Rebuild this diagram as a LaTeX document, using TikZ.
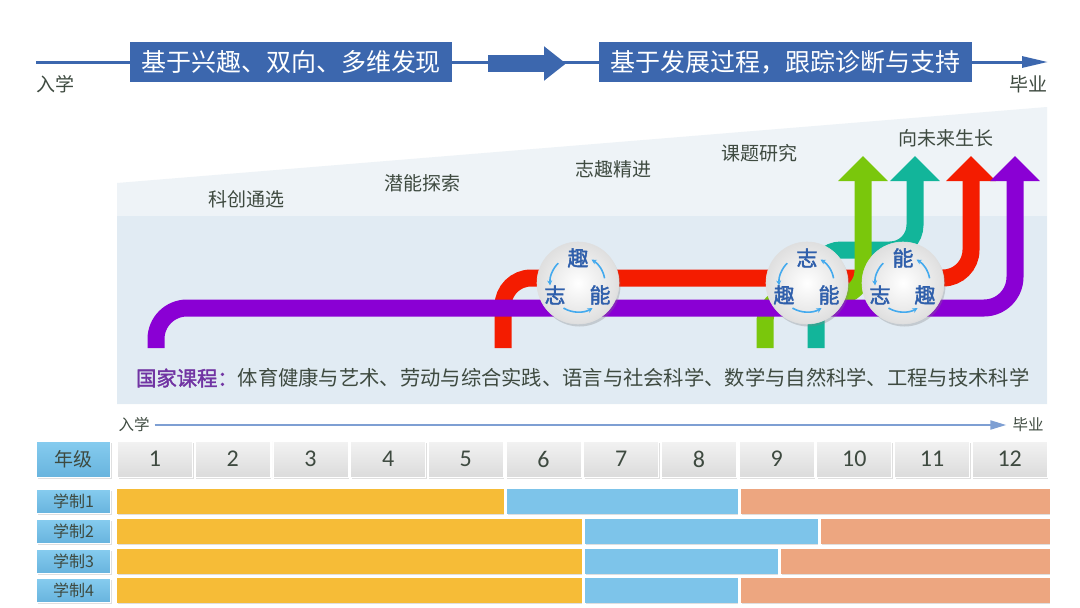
\documentclass[tikz,border=0pt]{standalone}
\usepackage{fontspec}
\setmainfont{Noto Sans CJK SC}[AutoFakeBold=2]
\newfontfamily\numfont{Carlito}
\usetikzlibrary{arrows.meta,shadows,positioning}

\definecolor{bannerblue}{HTML}{3C67AE}
\definecolor{txtgrey}{HTML}{3E4A40}
\definecolor{bandlight}{HTML}{EEF3F7}
\definecolor{banddark}{HTML}{E1EBF3}
\definecolor{roadpurple}{HTML}{8A00D4}
\definecolor{roadred}{HTML}{F41C00}
\definecolor{roadgreen}{HTML}{7AC70C}
\definecolor{roadteal}{HTML}{12B59A}
\definecolor{knotblue}{HTML}{2F5FAB}
\definecolor{cycblue}{HTML}{44AAEE}
\definecolor{natpurple}{HTML}{7134A3}
\definecolor{axisblue}{HTML}{7E9FD3}
\definecolor{baryellow}{HTML}{F6BC37}
\definecolor{barblue}{HTML}{7DC4EA}
\definecolor{barorange}{HTML}{EDA680}
\definecolor{labtop}{HTML}{86CCEF}
\definecolor{labbot}{HTML}{68B4DE}

\begin{document}
\begin{tikzpicture}[x=1pt,y=-1pt,
  banner/.style={fill=bannerblue,text=white,minimum height=40pt,inner sep=0pt,
    font=\fontsize{25}{25}\selectfont},
  stage/.style={text=txtgrey,inner sep=0pt,font=\fontsize{19}{19}\selectfont},
  road/.style={line width=17pt,rounded corners=28pt,-{Triangle[width=48pt,length=25pt]}},
  knot/.style={circle,minimum size=82pt,draw=gray!25,line width=.6pt,inner color=white,
    outer color=gray!25,drop shadow={shadow xshift=1.5pt,shadow yshift=-2.5pt,opacity=.3}},
  knotch/.style={text=knotblue,inner sep=0pt,font=\fontsize{21}{21}\selectfont\bfseries},
  cyc/.style={draw=cycblue,line width=1.6pt,-{Stealth[length=5pt,width=5pt]}},
  cell/.style={minimum width=75pt,minimum height=36pt,inner sep=0pt,draw=white,line width=.8pt,
    top color=gray!10,bottom color=gray!28,text=txtgrey,
    drop shadow={shadow xshift=1pt,shadow yshift=-1.5pt,opacity=.25}},
  lab/.style={minimum width=74pt,inner sep=0pt,draw=white,line width=.8pt,
    top color=labtop,bottom color=labbot,text=txtgrey,
    drop shadow={shadow xshift=1pt,shadow yshift=-1.5pt,opacity=.25}},
  bar/.style={draw=white,line width=.8pt,
    drop shadow={shadow xshift=1pt,shadow yshift=-1.5pt,opacity=.25}}
]
\useasboundingbox (0,0) rectangle (1080,608);
\fill[white] (0,0) rectangle (1080,608);

% top line: two phases
\coordinate (topL) at (36,62);
\coordinate (topR) at (1048,62);
\node[banner,minimum width=322pt] (phase1) at (291,62) {基于兴趣、双向、多维发现};
\node[banner,minimum width=373pt] (phase2) at (785.5,62) {基于发展过程，跟踪诊断与支持};
\draw[bannerblue,line width=3pt] (topL) -- (phase1.west);
\draw[bannerblue,line width=3pt] (phase1.east) -- (phase2.west);
\draw[bannerblue,line width=3pt,-{Triangle[width=11pt,length=26pt]}] (phase2.east) -- (topR);
\coordinate (fatS) at (488,63.5);
\coordinate (fatE) at (566,63.5);
\draw[bannerblue,line width=17pt,-{Triangle[width=33pt,length=22pt]}] (fatS) -- (fatE);
\node[stage] (inTop) at (55,84) {入学};
\node[stage] (outTop) at (1028,84) {毕业};

% background band
\fill[bandlight] (117,183) -- (1047,107) -- (1047,404) -- (117,404) -- cycle;
\fill[banddark] (117,216) rectangle (1047,404);

\node[stage] (st1) at (246,199) {科创通选};
\node[stage] (st2) at (422,183) {潜能探索};
\node[stage] (st3) at (613,169) {志趣精进};
\node[stage] (st4) at (759,153) {课题研究};
\node[stage] (st5) at (946,138) {向未来生长};

% roads
\draw[road,roadred] (503,348) -- (503,278) -- (971,278) -- (971,156);
\draw[road,roadteal,rounded corners=25pt] (816,348) -- (816,250) -- (915,250) -- (915,156);
\draw[road,roadgreen,rounded corners=25pt] (765,348) -- (765,296) -- (863,296) -- (863,156);
\draw[road,roadpurple,rounded corners=31pt] (156,348) -- (156,308) -- (1015,308) -- (1015,156);

% knots
\foreach \n/\x/\t/\l/\r in {k1/578/趣/志/能, k2/807/志/趣/能, k3/903/能/志/趣}{
  \node[knot] (\n) at (\x,283) {};
  \node[knotch] at (\x,258) {\t};
  \node[knotch] at (\x-23,295) {\l};
  \node[knotch] at (\x+22,295) {\r};
  \draw[cyc] (\n.center) ++(-135:28) arc (-135:-185:28);
  \draw[cyc] (\n.center) ++(-240:29) arc (-240:-300:29);
  \draw[cyc] (\n.center) ++(-10:27) arc (-10:-60:27);
}

\node[anchor=west,inner sep=0pt,text=txtgrey,font=\fontsize{20.3}{20.3}\selectfont] (natl) at (136,378)
  {\textcolor{natpurple}{\bfseries 国家课程：}体育健康与艺术、劳动与综合实践、语言与社会科学、数学与自然科学、工程与技术科学};

% grade axis
\node[stage,font=\fontsize{15.5}{15.5}\selectfont] (inBot) at (134,425) {入学};
\node[stage,font=\fontsize{15.5}{15.5}\selectfont] (outBot) at (1028,425) {毕业};
\draw[axisblue,line width=2pt,-{Triangle[width=9pt,length=16pt]}] (inBot.east) ++(5,0) -- ([xshift=-6pt]outBot.west);

% grade table
\node[lab,minimum height=36pt,font=\fontsize{19}{19}\selectfont] (grade) at (73.5,459) {年级};
\foreach \i in {1,...,12}
  \node[cell,font=\fontsize{24}{24}\selectfont\numfont] (g\i) at ({155+77.7*(\i-1)},459) {\i};

\foreach \r/\t/\a/\b in {1/489/503/737, 2/519/581/817, 3/549/581/777, 4/578/581/737}{
  \node[lab,minimum height=24pt,font=\fontsize{16}{16}\selectfont] (plan\r) at (73.5,\t+12) {学制\r};
  \fill[bar,baryellow] (117,\t) rectangle (\a,\t+24);
  \fill[bar,barblue] (\a+4,\t) rectangle (\b,\t+24);
  \fill[bar,barorange] (\b+4,\t) rectangle (1049,\t+24);
}
\end{tikzpicture}
\end{document}
